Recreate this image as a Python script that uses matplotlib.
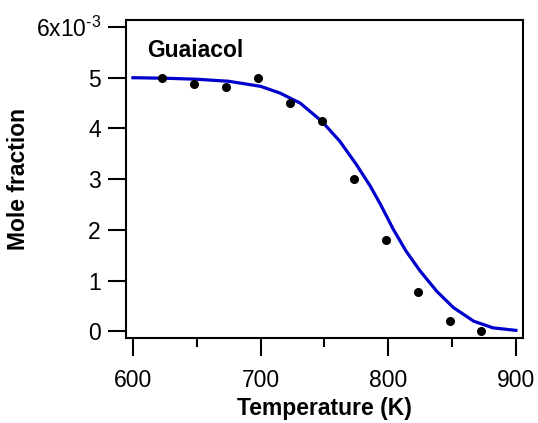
import matplotlib
matplotlib.use("Agg")
import matplotlib.pyplot as plt

# measured mole fraction (units of 1e-3)
temp_meas = [623, 648, 673, 698, 723, 748, 773, 798, 823, 848, 873]
frac_meas = [5.00, 4.88, 4.82, 5.00, 4.50, 4.14, 3.00, 1.80, 0.78, 0.20, 0.01]

# model curve (units of 1e-3)
temp_model = [600, 625, 650, 675, 700, 715, 731, 748, 762, 775, 786, 794,
              804, 814, 825, 838, 851, 867, 882, 900]
frac_model = [5.00, 4.99, 4.97, 4.93, 4.83, 4.70, 4.50, 4.14, 3.75, 3.29, 2.86, 2.50,
              2.01, 1.58, 1.19, 0.79, 0.47, 0.20, 0.07, 0.02]

x_ticks = [600, 700, 800, 900]
x_minor = [650, 750, 850]
y_ticks = [0, 1, 2, 3, 4, 5, 6]
y_ticklabels = ["0", "1", "2", "3", "4", "5", r"6x10$^{\text{-3}}$"]

plt.rcParams["font.family"] = ["Liberation Sans", "DejaVu Sans"]
plt.rcParams["mathtext.fontset"] = "custom"
plt.rcParams["mathtext.rm"] = "Liberation Sans"
plt.rcParams["mathtext.it"] = "Liberation Sans"

fig = plt.figure(figsize=(5.38, 4.23), dpi=100)
ax = fig.add_axes([0.234, 0.201, 0.738, 0.752])

ax.plot(temp_model, frac_model, color="#0000CC", linewidth=2.3, zorder=2,
        solid_joinstyle="round")
ax.plot(temp_meas, frac_meas, "o", color="black", markersize=5.5, zorder=3)

ax.set_xlim(594.5, 905.5)
ax.set_ylim(-0.13, 6.14)
ax.set_xticks(x_ticks)
ax.set_xticks(x_minor, minor=True)
ax.set_yticks(y_ticks)
ax.set_yticklabels(y_ticklabels)

for s in ax.spines.values():
    s.set_linewidth(1.5)
ax.tick_params(axis="both", which="major", direction="out", width=1.5,
               labelsize=16.5)
ax.tick_params(axis="x", which="major", length=13, pad=9)
ax.tick_params(axis="x", which="minor", direction="out", length=6.5, width=1.5)
ax.tick_params(axis="y", which="major", length=13, pad=5)

ax.set_xlabel("Temperature (K)", fontsize=16.5, fontweight="bold", labelpad=4)
ax.set_ylabel("Mole fraction", fontsize=16.5, fontweight="bold")
ax.yaxis.label.set_va("center")
ax.yaxis.set_label_coords(-0.27, 0.5)

ax.text(0.053, 0.905, "Guaiacol", transform=ax.transAxes, fontsize=16.5,
        fontweight="bold", ha="left", va="center")

fig.savefig("out.png", dpi=100)
